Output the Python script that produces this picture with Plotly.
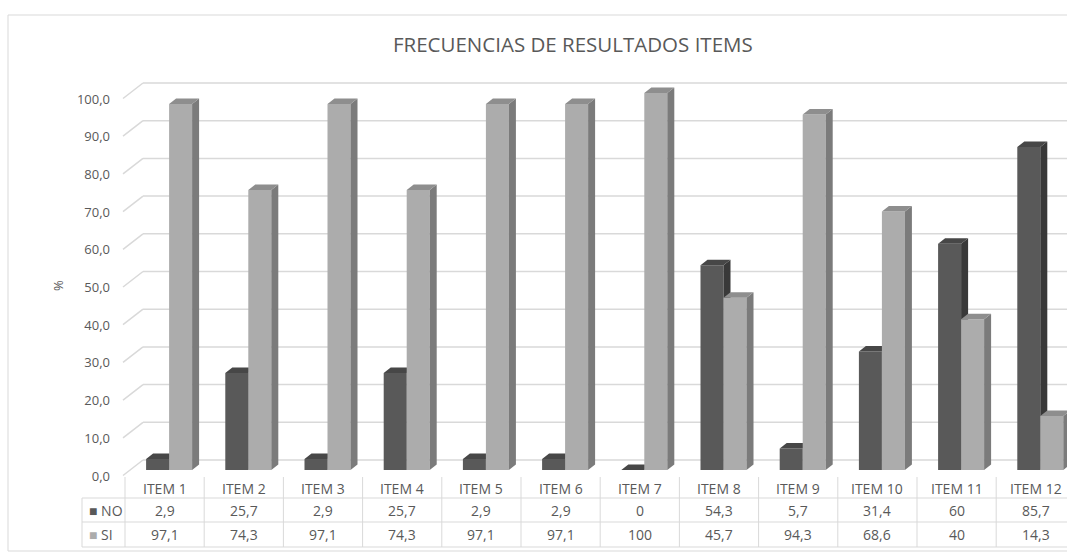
import plotly.graph_objects as go

# ---------------- data ----------------
items = ["ITEM 1", "ITEM 2", "ITEM 3", "ITEM 4", "ITEM 5", "ITEM 6",
         "ITEM 7", "ITEM 8", "ITEM 9", "ITEM 10", "ITEM 11", "ITEM 12"]
no_values = [2.9, 25.7, 2.9, 25.7, 2.9, 2.9, 0, 54.3, 5.7, 31.4, 60, 85.7]
si_values = [97.1, 74.3, 97.1, 74.3, 97.1, 97.1, 100, 45.7, 94.3, 68.6, 40, 14.3]
y_ticks = [0, 10, 20, 30, 40, 50, 60, 70, 80, 90, 100]
title_text = "FRECUENCIAS DE RESULTADOS ITEMS"
y_title = "%"

# ---------------- geometry / style ----------------
W, H = 1067, 553
ML, MR, MT, MB = 125, 0, 60, 76
PLOT_W = W - ML - MR
PLOT_H = H - MT - MB
COL_W = 79.2                 # pixel width of one category column
PX_PER_UNIT = 3.77           # pixels per y unit
BASE_PX = 470                # pixel row of y=0 on the bar plane
PLOT_BOTTOM = H - MB

x_range = [-0.5, -0.5 + PLOT_W / COL_W]
y_range = [(BASE_PX - PLOT_BOTTOM) / PX_PER_UNIT, (BASE_PX - MT) / PX_PER_UNIT]

def px_x(p):
    return (p - ML) / PLOT_W

def px_y(p):
    return (PLOT_BOTTOM - p) / PLOT_H

BAR_W = 23 / COL_W
NO_OFF = -18.5 / COL_W
SI_OFF = NO_OFF + BAR_W
DX = 7 / COL_W
DY = 5.5 / PX_PER_UNIT
BACK_DY = 10 / PX_PER_UNIT
LABEL_DY = 5.5 / PX_PER_UNIT

GRAY_TXT = "#595959"
GRID = "#d9d9d9"
FONT = "Open Sans"

series = [
    ("NO", no_values, NO_OFF, "#595959", "#393939", "#474747"),
    ("SI", si_values, SI_OFF, "#acacac", "#7b7b7b", "#8e8e8e"),
]

fig = go.Figure()

for name, vals, off, c_front, c_side, c_top in series:
    fx, fy, sx, sy, tx, ty = [], [], [], [], [], []
    for i, v in enumerate(vals):
        x0 = i + off
        x1 = x0 + BAR_W
        fx += [x0, x1, x1, x0, x0, None]
        fy += [0, 0, v, v, 0, None]
        sx += [x1, x1 + DX, x1 + DX, x1, x1, None]
        sy += [0, DY, v + DY, v, 0, None]
        tx += [x0, x1, x1 + DX, x0 + DX, x0, None]
        ty += [v, v, v + DY, v + DY, v, None]
    for xs, ys, col in ((fx, fy, c_front), (sx, sy, c_side), (tx, ty, c_top)):
        fig.add_trace(go.Scatter(x=xs, y=ys, mode="lines", fill="toself",
                                 fillcolor=col, line=dict(width=0, color=col),
                                 hoverinfo="skip", showlegend=False, name=name))

shapes = []
# outer chart border
shapes.append(dict(type="rect", xref="paper", yref="paper",
                   x0=px_x(8), x1=px_x(W + 60), y0=px_y(551), y1=px_y(15),
                   line=dict(color=GRID, width=1), layer="below"))
# back-wall gridlines and diagonal connectors
for v in y_ticks:
    shapes.append(dict(type="line", xref="paper", yref="y",
                       x0=px_x(143), x1=1, y0=v + BACK_DY, y1=v + BACK_DY,
                       line=dict(color=GRID, width=1.5), layer="below"))
    shapes.append(dict(type="line", xref="paper", yref="y",
                       x0=px_x(123), x1=px_x(143), y0=v - LABEL_DY, y1=v + BACK_DY,
                       line=dict(color=GRID, width=1.5), layer="below"))
# data table lines
for k in range(len(items) + 1):
    xp = px_x(ML + COL_W * k)
    shapes.append(dict(type="line", xref="paper", yref="paper",
                       x0=xp, x1=xp, y0=px_y(477), y1=px_y(547),
                       line=dict(color=GRID, width=1)))
shapes.append(dict(type="line", xref="paper", yref="paper",
                   x0=px_x(82), x1=px_x(82), y0=px_y(498), y1=px_y(547),
                   line=dict(color=GRID, width=1)))
for yp in (498, 522, 547):
    shapes.append(dict(type="line", xref="paper", yref="paper",
                       x0=px_x(82), x1=px_x(W + 60), y0=px_y(yp), y1=px_y(yp),
                       line=dict(color=GRID, width=1)))

def fmt(v):
    return f"{v:g}".replace(".", ",")

TFONT = dict(size=14, color=GRAY_TXT, family=FONT)
annotations = []
for i, (it, nv, sv) in enumerate(zip(items, no_values, si_values)):
    for yp, txt in ((488, it), (510, fmt(nv)), (534, fmt(sv))):
        annotations.append(dict(x=i, y=px_y(yp), xref="x", yref="paper", text=txt,
                                xanchor="center", yanchor="middle",
                                showarrow=False, font=TFONT))
for name, yp, col in (("NO", 510, "#595959"), ("SI", 534, "#acacac")):
    annotations.append(dict(x=px_x(87), y=px_y(yp), xref="paper", yref="paper",
                            xanchor="left", yanchor="middle",
                            text=f"<span style='color:{col}'>■</span> {name}",
                            showarrow=False, font=TFONT))
annotations.append(dict(x=px_x(58), y=px_y(286), xref="paper", yref="paper",
                        xanchor="center", yanchor="middle",
                        text=y_title, textangle=-90, showarrow=False,
                        font=dict(size=13, color=GRAY_TXT, family=FONT)))
annotations.append(dict(x=px_x(573), y=px_y(44), xref="paper", yref="paper",
                        xanchor="center", yanchor="middle",
                        text=title_text, showarrow=False,
                        font=dict(size=20.5, color=GRAY_TXT, family=FONT)))

fig.update_layout(
    width=W, height=H,
    margin=dict(l=ML, r=MR, t=MT, b=MB, pad=0),
    paper_bgcolor="white", plot_bgcolor="white",
    showlegend=False,
    shapes=shapes, annotations=annotations,
    xaxis=dict(range=x_range, showgrid=False, zeroline=False, showline=False,
               showticklabels=False, fixedrange=True),
    yaxis=dict(range=y_range, showgrid=False, zeroline=False, showline=False,
               tickmode="array", tickvals=y_ticks,
               ticktext=[f"{v:.1f}".replace(".", ",") for v in y_ticks],
               ticks="", ticklabelshift=6, ticklabelstandoff=14,
               tickfont=dict(size=13, color=GRAY_TXT, family=FONT), fixedrange=True),
)

fig.write_html("out.html", config={"displayModeBar": False},
               post_script="document.body.style.margin='0';")
